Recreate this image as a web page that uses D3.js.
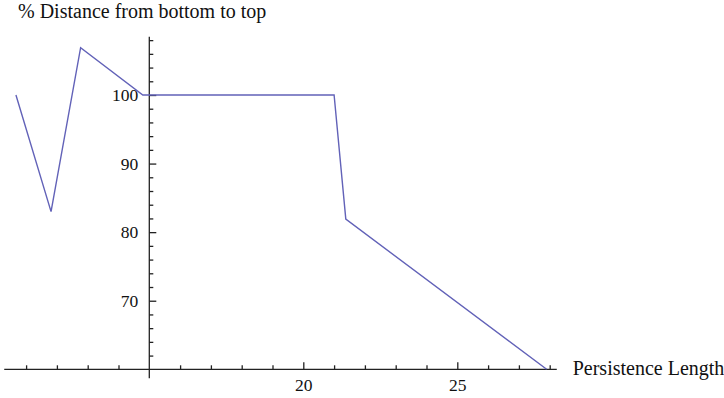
<!DOCTYPE html>
<html lang="en">
<head>
    <meta charset="UTF-8">
    <title>Persistence Length</title>
    <script src="https://d3js.org/d3.v7.min.js"></script>
    <style>
        body { margin: 0; background: #fff; }
        .line { fill: none; stroke: #6262b8; stroke-width: 1.4px; }
        .axis-line { stroke: #222; stroke-width: 1.3px; }
        .tick line { stroke: #222; stroke-width: 1.3px; }
        .tick text, .label { font-family: "Liberation Serif", "Times New Roman", serif; fill: #111; }
        .tick text { font-size: 17.5px; }
        .label { font-size: 20px; }
    </style>
</head>
<body>
    <svg id="chart" width="724" height="398"></svg>
    <script>
        // data
        var lengths = [10.67, 11.81, 12.77, 14.79, 21.0, 21.38, 27.9];
        var distances = [100, 83.0, 106.9, 100, 100, 81.9, 60];

        var xMajor = [20, 25];
        var xMinor = [11, 12, 13, 14, 16, 17, 18, 19, 21, 22, 23, 24, 26, 27, 28];
        var yMajor = [70, 80, 90, 100];
        var yMinor = [62, 64, 66, 68, 72, 74, 76, 78, 82, 84, 86, 88, 92, 94, 96, 98, 102, 104, 106, 108];

        var xLabel = "Persistence Length";
        var yLabel = "% Distance from bottom to top";

        var x = d3.scaleLinear().domain([15, 25]).range([149.3, 457.3]);
        var y = d3.scaleLinear().domain([60, 100]).range([369.3, 95]);

        var svg = d3.select("#chart");

        // axes lines (Mathematica style, crossing at 15 / 60)
        svg.append("line").attr("class", "axis-line")
            .attr("x1", x(10.29)).attr("x2", x(28.23))
            .attr("y1", y(60)).attr("y2", y(60));
        svg.append("line").attr("class", "axis-line")
            .attr("x1", x(15)).attr("x2", x(15))
            .attr("y1", y(108.5)).attr("y2", y(58.7));

        // x ticks point up into the plot
        var gx = svg.append("g").attr("transform", "translate(0," + y(60) + ")");
        gx.append("g").call(d3.axisBottom(x).tickValues(xMinor).tickSize(-4).tickFormat(""));
        gx.append("g").call(d3.axisBottom(x).tickValues(xMajor).tickSize(-7).tickPadding(9).tickFormat(d3.format("d")));
        gx.selectAll(".domain").remove();

        // y ticks point right
        var gy = svg.append("g").attr("transform", "translate(" + x(15) + ",0)");
        gy.append("g").call(d3.axisRight(y).tickValues(yMinor).tickSize(4).tickFormat(""));
        gy.append("g").call(d3.axisRight(y).tickValues(yMajor).tickSize(7).tickFormat(d3.format("d")));
        gy.selectAll(".domain").remove();
        gy.selectAll(".tick text").attr("text-anchor", "end").attr("x", -11);

        var pts = lengths.map(function(d, i) { return [d, distances[i]]; });
        var line = d3.line()
            .x(function(d) { return x(d[0]); })
            .y(function(d) { return y(d[1]); });

        svg.append("path")
            .datum(pts)
            .attr("class", "line")
            .attr("d", line);

        svg.append("text").attr("class", "label")
            .attr("x", 18).attr("y", 18)
            .text(yLabel);

        svg.append("text").attr("class", "label")
            .attr("x", 572.7).attr("y", 375)
            .text(xLabel);
    </script>
</body>
</html>
